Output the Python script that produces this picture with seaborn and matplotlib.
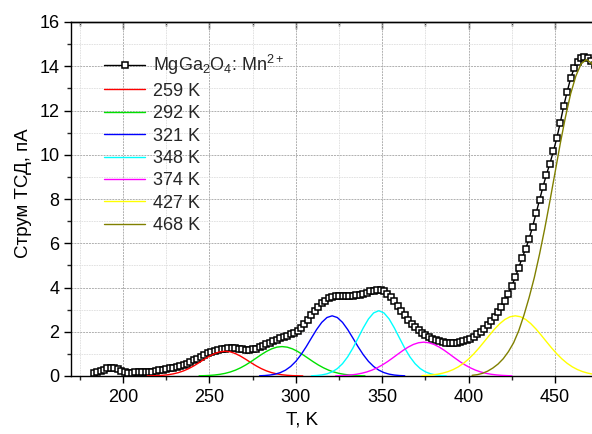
import matplotlib
matplotlib.use('Agg')
import matplotlib.pyplot as plt
import seaborn as sns
import pandas as pd
from matplotlib.ticker import MultipleLocator

# ---- experimental TSD curve (MgGa2O4:Mn2+) ----
T_exp = list(range(183, 474, 2))
I_exp = [
    0.12, 0.17, 0.23, 0.29, 0.34, 0.38, 0.37, 0.31, 0.22, 0.16,
    0.15, 0.15, 0.16, 0.16, 0.17, 0.18, 0.19, 0.20, 0.22, 0.25,
    0.29, 0.33, 0.36, 0.38, 0.40, 0.43, 0.48, 0.55, 0.63, 0.71,
    0.79, 0.87, 0.95, 1.02, 1.08, 1.13, 1.17, 1.21, 1.24, 1.26,
    1.27, 1.26, 1.24, 1.21, 1.19, 1.18, 1.20, 1.24, 1.30, 1.36,
    1.43, 1.50, 1.57, 1.64, 1.70, 1.76, 1.82, 1.88, 1.96, 2.05,
    2.17, 2.33, 2.55, 2.76, 2.96, 3.14, 3.29, 3.41, 3.52, 3.58,
    3.62, 3.63, 3.63, 3.62, 3.62, 3.63, 3.65, 3.68, 3.72, 3.77,
    3.82, 3.86, 3.88, 3.87, 3.82, 3.72, 3.57, 3.38, 3.17, 2.95,
    2.74, 2.54, 2.37, 2.21, 2.07, 1.95, 1.85, 1.76, 1.69, 1.63,
    1.58, 1.54, 1.51, 1.49, 1.48, 1.49, 1.52, 1.56, 1.62, 1.69,
    1.78, 1.88, 2.00, 2.14, 2.30, 2.47, 2.66, 2.88, 3.12, 3.40,
    3.72, 4.08, 4.47, 4.90, 5.35, 5.75, 6.20, 6.75, 7.35, 7.95,
    8.55, 9.10, 9.60, 10.15, 10.75, 11.45, 12.20, 12.85, 13.45, 13.90,
    14.20, 14.38, 14.42, 14.38, 14.25, 14.05,
]

# ---- fitted components ----
T_259 = list(range(214, 305, 3))
I_259 = [0.004, 0.009, 0.017, 0.032, 0.056, 0.095, 0.152, 0.231, 0.334, 0.460,
         0.604, 0.755, 0.897, 1.015, 1.093, 1.120, 1.093, 1.015, 0.897, 0.755,
         0.604, 0.460, 0.334, 0.231, 0.152, 0.095, 0.056, 0.032, 0.017, 0.009, 0.004]

T_292 = list(range(244, 341, 3))
I_292 = [0.008, 0.015, 0.026, 0.045, 0.075, 0.118, 0.180, 0.263, 0.370, 0.499,
         0.647, 0.807, 0.966, 1.111, 1.228, 1.304, 1.330, 1.304, 1.228, 1.111,
         0.966, 0.807, 0.647, 0.499, 0.370, 0.263, 0.180, 0.118, 0.075, 0.045,
         0.026, 0.015, 0.008]

T_321 = list(range(279, 364, 3))
I_321 = [0.010, 0.021, 0.043, 0.083, 0.153, 0.264, 0.431, 0.663, 0.965, 1.324,
         1.716, 2.099, 2.424, 2.643, 2.720, 2.643, 2.424, 2.099, 1.716, 1.324,
         0.965, 0.663, 0.431, 0.264, 0.153, 0.083, 0.043, 0.021, 0.010]

T_348 = list(range(309, 388, 3))
I_348 = [0.009, 0.022, 0.048, 0.098, 0.187, 0.334, 0.557, 0.867, 1.260, 1.712,
         2.172, 2.575, 2.851, 2.950, 2.851, 2.575, 2.172, 1.712, 1.260, 0.867,
         0.557, 0.334, 0.187, 0.098, 0.048, 0.022, 0.009]

T_374 = list(range(323, 426, 3))
I_374 = [0.009, 0.017, 0.029, 0.049, 0.078, 0.122, 0.182, 0.264, 0.368, 0.497,
         0.647, 0.813, 0.986, 1.155, 1.306, 1.426, 1.503, 1.530, 1.503, 1.426,
         1.306, 1.155, 0.986, 0.813, 0.647, 0.497, 0.368, 0.264, 0.182, 0.122,
         0.078, 0.049, 0.029, 0.017, 0.009]

T_427 = list(range(373, 482, 3))
I_427 = [0.017, 0.030, 0.051, 0.082, 0.129, 0.196, 0.289, 0.413, 0.573, 0.771,
         1.004, 1.268, 1.553, 1.843, 2.120, 2.364, 2.556, 2.678, 2.720, 2.678,
         2.556, 2.364, 2.120, 1.843, 1.553, 1.268, 1.004, 0.771, 0.573, 0.413,
         0.289, 0.196, 0.129, 0.082, 0.051, 0.030, 0.017]

T_468 = list(range(402, 478, 3))
I_468 = [0.03, 0.06, 0.12, 0.22, 0.36, 0.54, 0.78, 1.10, 1.50, 2.05,
         2.75, 3.55, 4.45, 5.50, 6.65, 7.90, 9.20, 10.50, 11.70, 12.75,
         13.55, 14.10, 14.30, 14.15, 13.70, 13.00]

comp_labels = ['259 K', '292 K', '321 K', '348 K', '374 K', '427 K', '468 K']
comp_colors = ['#ff0000', '#00e000', '#0000ff', '#00ffff', '#ff00ff', '#ffff00', '#808000']
comp_T = [T_259, T_292, T_321, T_348, T_374, T_427, T_468]
comp_I = [I_259, I_292, I_321, I_348, I_374, I_427, I_468]

exp_label = 'MgGa$_2$O$_4$: Mn$^{2+}$'
x_label = 'T, K'
y_label = 'Струм ТСД, пА'

sns.set_theme(style='white')
plt.rcParams['font.family'] = ['Liberation Sans', 'DejaVu Sans']
plt.rcParams['mathtext.fontset'] = 'custom'
plt.rcParams['mathtext.rm'] = 'Liberation Sans'
plt.rcParams['mathtext.it'] = 'Liberation Sans:italic'
plt.rcParams['mathtext.default'] = 'regular'

fig = plt.figure(figsize=(5.92, 4.34), dpi=100)
ax = fig.add_axes([71.2 / 592, 58 / 434, 535.7 / 592, 354 / 434])

df_exp = pd.DataFrame({'T': T_exp, 'I': I_exp})
sns.lineplot(data=df_exp, x='T', y='I', ax=ax, color='black', linewidth=1.0,
             marker='s', markersize=5.0, markerfacecolor='white',
             markeredgecolor='black', markeredgewidth=1.1, zorder=3,
             label=exp_label, sort=False, estimator=None)

for T, I, lab, col in zip(comp_T, comp_I, comp_labels, comp_colors):
    d = pd.DataFrame({'T': T, 'I': I})
    sns.lineplot(data=d, x='T', y='I', ax=ax, color=col, linewidth=1.0,
                 label=lab, zorder=4, sort=False, estimator=None)

ax.set_xlim(170, 480)
ax.set_ylim(0, 16)
ax.xaxis.set_major_locator(MultipleLocator(50))
ax.xaxis.set_minor_locator(MultipleLocator(25))
ax.yaxis.set_major_locator(MultipleLocator(2))
ax.yaxis.set_minor_locator(MultipleLocator(1))

ax.grid(which='major', color='#b0b0b0', linestyle=(0, (2, 1)), linewidth=0.7)
ax.grid(which='minor', color='#dedede', linestyle=(0, (2, 1)), linewidth=0.6)
ax.set_axisbelow(True)

for s in ax.spines.values():
    s.set_color('black')
    s.set_linewidth(1.0)

ax.tick_params(axis='x', which='major', direction='out', length=5, width=1.0,
               bottom=True, top=False, labelsize=13, pad=4.5, colors='black')
ax.tick_params(axis='x', which='minor', direction='out', length=3, width=1.0,
               bottom=True, top=False)
ax.tick_params(axis='y', which='major', direction='out', length=5, width=1.0,
               left=True, right=False, labelsize=13, pad=3.5, colors='black')
ax.tick_params(axis='y', which='minor', direction='out', length=3, width=1.0,
               left=True, right=False)

sec = ax.secondary_xaxis('top')
sec.xaxis.set_major_locator(MultipleLocator(50))
sec.xaxis.set_minor_locator(MultipleLocator(25))
sec.tick_params(which='major', direction='in', length=5, width=1.0, labeltop=False)
sec.tick_params(which='minor', direction='in', length=3, width=1.0, labeltop=False)
sec.spines['top'].set_linewidth(1.0)

ax.set_xlabel(x_label, fontsize=13.5, color='black')
ax.set_ylabel(y_label, fontsize=13.5, color='black')
ax.xaxis.set_label_coords((302 - 71.2) / 535.7, -0.1)
ax.yaxis.set_label_coords(-0.073, 0.517)

leg = ax.legend(loc='upper left', bbox_to_anchor=(0.061, 0.912), frameon=False,
                fontsize=13, handlelength=2.3, handletextpad=0.4,
                labelspacing=0.3, borderpad=0, borderaxespad=0)

fig.savefig('out.png', dpi=100)
